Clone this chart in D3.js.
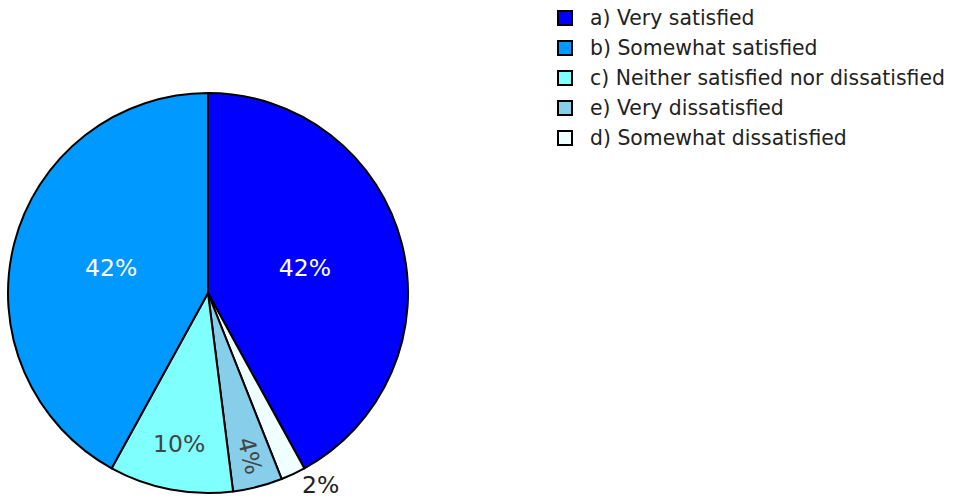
<!DOCTYPE html>
<html>
<head>
<meta charset="utf-8">
<script src="https://cdn.jsdelivr.net/npm/d3@7/dist/d3.min.js"></script>
<style>
  html, body { margin: 0; padding: 0; background: #fff; }
  svg { display: block; font-family: "DejaVu Sans", Verdana, sans-serif; }
</style>
</head>
<body>
<svg id="chart" width="955" height="500"></svg>
<script>
// Data (clockwise order from 12 o'clock)
const sliceLabels = ["a) Very satisfied", "d) Somewhat dissatisfied", "e) Very dissatisfied", "c) Neither satisfied nor dissatisfied", "b) Somewhat satisfied"];
const sliceValues = [42, 2, 4, 10, 42];
const sliceColors = ["#0000ff", "#f0ffff", "#87ceeb", "#80ffff", "#0099ff"];
// Legend order
const legendOrder = ["a) Very satisfied", "b) Somewhat satisfied", "c) Neither satisfied nor dissatisfied", "e) Very dissatisfied", "d) Somewhat dissatisfied"];

const svg = d3.select("#chart");
const cx = 208, cy = 293, R = 200;

const data = sliceLabels.map((l, i) => ({label: l, value: sliceValues[i], color: sliceColors[i]}));
const total = d3.sum(sliceValues);

const pie = d3.pie().value(d => d.value).sort(null);
const arcs = pie(data);
const arc = d3.arc().innerRadius(0).outerRadius(R);

const g = svg.append("g").attr("transform", `translate(${cx},${cy})`);
g.selectAll("path.slice").data(arcs).enter().append("path")
  .attr("class", "slice")
  .attr("d", arc)
  .attr("fill", d => d.data.color)
  .attr("stroke", "#000")
  .attr("stroke-width", 2)
  .attr("stroke-linejoin", "round");

// label placement rules
function pt(angle, r) { return [Math.sin(angle) * r, -Math.cos(angle) * r]; }
const darkFill = new Set(["#0000ff", "#0099ff"]);
const fs = 23.5;
arcs.forEach(d => {
  const mid = (d.startAngle + d.endAngle) / 2;
  const frac = d.data.value / total;
  const txt = Math.round(frac * 100) + "%";
  if (frac >= 0.3) {
    const [x, y] = pt(mid, R * 0.5);
    g.append("text").attr("x", x).attr("y", y).attr("text-anchor", "middle")
      .attr("dominant-baseline", "central").attr("font-size", fs)
      .attr("fill", darkFill.has(d.data.color) ? "#fff" : "#444").text(txt);
  } else if (frac >= 0.08) {
    const [x, y] = pt(mid, R * 0.77);
    g.append("text").attr("x", x).attr("y", y).attr("text-anchor", "middle")
      .attr("dominant-baseline", "central").attr("font-size", fs)
      .attr("fill", "#444").text(txt);
  } else if (frac >= 0.03) {
    const [x, y] = pt(mid, R * 0.84);
    const rot = Math.atan2(Math.cos(mid) * -1, Math.sin(mid)) * 180 / Math.PI;
    g.append("text").attr("transform", `translate(${x},${y}) rotate(${rot})`)
      .attr("text-anchor", "middle").attr("dominant-baseline", "central")
      .attr("font-size", fs).attr("fill", "#444").text(txt);
  } else {
    const [x, y] = pt(mid, R + 21);
    g.append("text").attr("x", x).attr("y", y).attr("text-anchor", "start")
      .attr("font-size", fs).attr("fill", "#222").text(txt);
  }
});

// Legend
const colorOf = new Map(data.map(d => [d.label, d.color]));
const lg = svg.append("g");
legendOrder.forEach((l, i) => {
  const y = 18 + i * 30;
  lg.append("rect").attr("x", 558).attr("y", y - 7).attr("width", 14).attr("height", 14)
    .attr("fill", colorOf.get(l)).attr("stroke", "#000").attr("stroke-width", 2);
  lg.append("text").attr("x", 590).attr("y", y).attr("dominant-baseline", "central")
    .attr("font-size", 20.4).attr("fill", "#222").text(l);
});
</script>
</body>
</html>
